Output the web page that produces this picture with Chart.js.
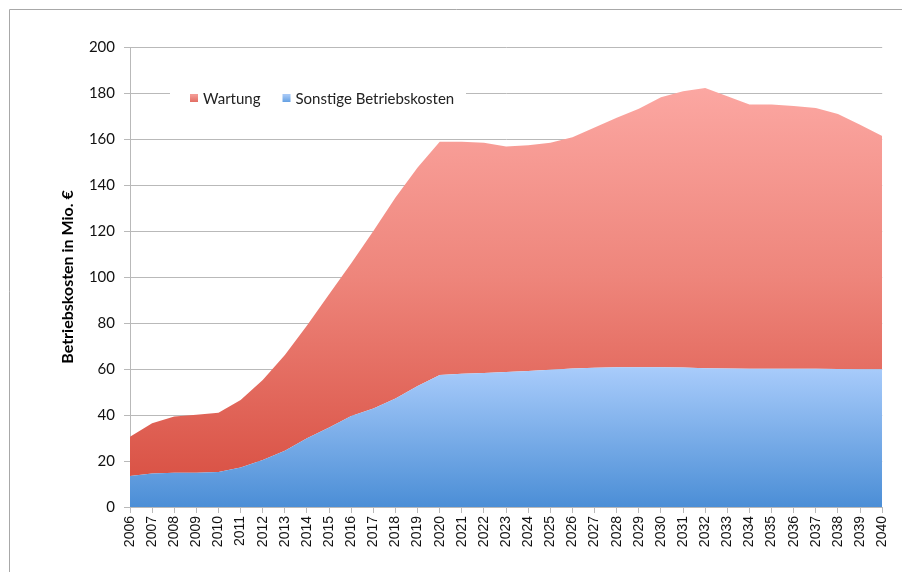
<!DOCTYPE html>
<html>
<head>
<meta charset="utf-8">
<script src="https://cdn.jsdelivr.net/npm/chart.js@4/dist/chart.umd.min.js"></script>
<style>
  body { margin: 0; background: #fff; }
  canvas { display: block; }
</style>
</head>
<body>
<canvas id="area-chart" width="902" height="572"></canvas>
<script>
// years on the x axis
const years = [
  "2006", "2007", "2008", "2009", "2010", "2011", "2012", "2013", "2014", "2015",
  "2016", "2017", "2018", "2019", "2020", "2021", "2022", "2023", "2024", "2025",
  "2026", "2027", "2028", "2029", "2030", "2031", "2032", "2033", "2034", "2035",
  "2036", "2037", "2038", "2039", "2040"
];

// Sonstige Betriebskosten (bottom layer)
const sonstige = [
  13.5, 14.6, 14.9, 14.9, 15.2, 17.2, 20.4, 24.5, 29.9, 34.6,
  39.6, 42.8, 47.2, 52.6, 57.4, 57.9, 58.3, 58.7, 59.1, 59.7,
  60.2, 60.5, 60.8, 60.8, 60.8, 60.6, 60.3, 60.2, 60.1, 60.1,
  60.1, 60.1, 60.0, 59.9, 59.9
];

// Wartung (stacked on top)
const wartung = [
  17.0, 21.8, 24.5, 25.2, 25.8, 29.3, 34.8, 41.6, 49.0, 57.9,
  66.4, 77.2, 87.4, 95.0, 101.4, 100.9, 100.1, 98.0, 98.2, 98.7,
  100.6, 104.5, 108.4, 112.3, 117.4, 120.2, 121.9, 118.4, 114.9, 114.9,
  114.2, 113.4, 110.9, 106.3, 101.4
];

const seriesNames = ["Wartung", "Sonstige Betriebskosten"];
const yAxisTitle = "Betriebskosten in Mio. €";

const gridColor = "#b9b9b9";

function redFill(context) {
  const chart = context.chart;
  const y = chart.scales.y;
  if (!y || !chart.chartArea) return "#e46a5f";
  const g = chart.ctx.createLinearGradient(0, y.getPixelForValue(185), 0, y.getPixelForValue(15));
  g.addColorStop(0, "#fca8a3");
  g.addColorStop(0.5, "#ee857b");
  g.addColorStop(1, "#da5447");
  return g;
}

function blueFill(context) {
  const chart = context.chart;
  const y = chart.scales.y;
  if (!y || !chart.chartArea) return "#6aa6e8";
  const g = chart.ctx.createLinearGradient(0, y.getPixelForValue(61), 0, y.getPixelForValue(0));
  g.addColorStop(0, "#a9ccfb");
  g.addColorStop(1, "#4b8ed6");
  return g;
}

// frame round the whole picture
const framePlugin = {
  id: "frame",
  beforeDraw(chart) {
    const ctx = chart.ctx;
    ctx.save();
    ctx.strokeStyle = "#a8a8a8";
    ctx.lineWidth = 1;
    ctx.beginPath();
    ctx.moveTo(9.5, 580);
    ctx.lineTo(9.5, 9.5);
    ctx.lineTo(910, 9.5);
    ctx.stroke();
    ctx.restore();
  }
};

// legend sitting inside the plot, on a white box
const innerLegend = {
  id: "innerLegend",
  afterDraw(chart) {
    const ctx = chart.ctx;
    const y = chart.scales.y.getPixelForValue(180) + 6;
    ctx.save();
    ctx.fillStyle = "#ffffff";
    ctx.fillRect(170, y - 12, 296, 24);
    ctx.font = "15px Lato";
    ctx.textBaseline = "middle";
    let x = 190;
    const colors = [["#f39a94", "#e0675c"], ["#a6c8f6", "#5b9be0"]];
    seriesNames.forEach((name, i) => {
      const g = ctx.createLinearGradient(0, y - 4, 0, y + 4);
      g.addColorStop(0, colors[i][0]);
      g.addColorStop(1, colors[i][1]);
      ctx.fillStyle = g;
      ctx.fillRect(x, y - 5, 8, 8);
      ctx.fillStyle = "#222";
      ctx.fillText(name, x + 13, y);
      x += 13 + ctx.measureText(name).width + 22;
    });
    ctx.restore();
  }
};

new Chart(document.getElementById("area-chart"), {
  type: "line",
  data: {
    labels: years,
    datasets: [
      {
        label: seriesNames[1],
        data: sonstige,
        backgroundColor: blueFill,
        borderWidth: 0,
        pointRadius: 0,
        fill: "origin",
        tension: 0
      },
      {
        label: seriesNames[0],
        data: wartung,
        backgroundColor: redFill,
        borderWidth: 0,
        pointRadius: 0,
        fill: "-1",
        tension: 0
      }
    ]
  },
  options: {
    responsive: false,
    animation: false,
    layout: { padding: { left: 54, top: 47, right: 18, bottom: 0 } },
    plugins: {
      legend: { display: false },
      tooltip: { enabled: false }
    },
    scales: {
      x: {
        offset: false,
        grid: {
          drawOnChartArea: false,
          color: gridColor,
          tickLength: 6
        },
        border: { color: gridColor },
        ticks: {
          minRotation: 90,
          maxRotation: 90,
          autoSkip: false,
          padding: 3,
          color: "#111",
          font: { family: "Liberation Sans", size: 14 }
        },
        afterFit(scale) { scale.height = 65; }
      },
      y: {
        stacked: true,
        min: 0,
        max: 200,
        grid: {
          color: gridColor,
          tickLength: 6
        },
        border: { color: gridColor },
        ticks: {
          stepSize: 20,
          padding: 9,
          color: "#111",
          font: { family: "Lato", size: 15 }
        },
        title: {
          display: true,
          text: yAxisTitle,
          color: "#000",
          padding: { top: 4, bottom: 4 },
          font: { family: "Lato", size: 16, weight: "bold" }
        },
        afterFit(scale) { scale.width = 76; }
      }
    }
  },
  plugins: [framePlugin, innerLegend]
});
</script>
</body>
</html>
